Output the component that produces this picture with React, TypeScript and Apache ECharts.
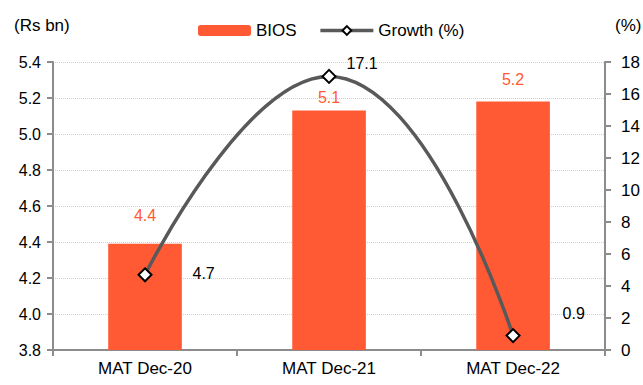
import React, { useEffect, useRef } from "react";
import * as echarts from "echarts";

const categories = ["MAT Dec-20", "MAT Dec-21", "MAT Dec-22"];
const biosValues = [4.39, 5.13, 5.18];
const biosLabels = ["4.4", "5.1", "5.2"];
const growthValues = [4.7, 17.1, 0.9];
const growthLabels = ["4.7", "17.1", "0.9"];

const ORANGE = "#FF5A33";
const LINE = "#595959";
const FONT = "Liberation Sans, Arial, sans-serif";

export default function App() {
  const ref = useRef<HTMLDivElement>(null);
  useEffect(() => {
    const chart = echarts.init(ref.current!, null, { renderer: "svg" });
    const barDist = [20, 5, 14];
    const lineDist = [40, 10, 42];
    const lineOff = [
      [0, -1],
      [0, -13],
      [0, -22],
    ];
    chart.setOption({
      animation: false,
      textStyle: { fontFamily: FONT },
      grid: { left: 53, right: 37, top: 62, bottom: 35 },
      legend: {
        top: 17,
        left: 193,
        itemGap: 22,
        itemWidth: 53,
        itemHeight: 11,
        textStyle: { fontSize: 17, color: "#000", fontFamily: FONT },
        data: [
          { name: "BIOS", itemStyle: { color: ORANGE } },
          {
            name: "Growth (%)",
            lineStyle: { color: LINE, width: 3.5 },
            itemStyle: { color: "#fff", borderColor: "#000", borderWidth: 2 },
          },
        ],
      },
      graphic: [
        {
          type: "text",
          left: 14,
          top: 17,
          style: { text: "(Rs bn)", fontSize: 17, fill: "#000", fontFamily: FONT },
        },
        {
          type: "text",
          left: 615,
          top: 17,
          style: { text: "(%)", fontSize: 17, fill: "#000", fontFamily: FONT },
        },
      ],
      xAxis: {
        type: "category",
        data: categories,
        boundaryGap: true,
        axisLine: { lineStyle: { color: "#8c8c8c", width: 2 } },
        axisTick: { show: true, length: 6, lineStyle: { color: "#8c8c8c", width: 2 } },
        axisLabel: { fontSize: 17, color: "#000", margin: 10, fontFamily: FONT },
      },
      yAxis: [
        {
          type: "value",
          min: 3.8,
          max: 5.4,
          interval: 0.2,
          axisLine: { show: true, lineStyle: { color: "#8c8c8c", width: 2 } },
          axisTick: { show: true, length: 6, lineStyle: { color: "#8c8c8c", width: 2 } },
          axisLabel: {
            fontSize: 16,
            color: "#000",
            margin: 12,
            fontFamily: FONT,
            formatter: (v: number) => v.toFixed(1),
          },
          splitLine: { show: true, lineStyle: { color: "#d0d0d0", type: "dotted", width: 1 } },
        },
        {
          type: "value",
          min: 0,
          max: 18,
          interval: 2,
          position: "right",
          axisLine: { show: true, lineStyle: { color: "#8c8c8c", width: 2 } },
          axisTick: { show: true, length: 6, lineStyle: { color: "#8c8c8c", width: 2 } },
          axisLabel: { fontSize: 17, color: "#000", margin: 16, fontFamily: FONT },
          splitLine: { show: false },
        },
      ],
      series: [
        {
          name: "BIOS",
          type: "bar",
          yAxisIndex: 0,
          barWidth: "40%",
          itemStyle: { color: ORANGE },
          data: biosValues.map((v, i) => ({
            value: v,
            label: {
              show: true,
              position: "top",
              distance: barDist[i],
              color: ORANGE,
              fontSize: 16,
              fontFamily: FONT,
              formatter: () => biosLabels[i],
            },
          })),
        },
        {
          name: "Growth (%)",
          type: "line",
          yAxisIndex: 1,
          smooth: 0.5,
          symbol: "diamond",
          symbolSize: 13,
          lineStyle: { color: LINE, width: 3.5 },
          itemStyle: { color: "#fff", borderColor: "#000", borderWidth: 2 },
          data: growthValues.map((v, i) => ({
            value: v,
            label: {
              show: true,
              position: "right",
              distance: lineDist[i],
              offset: lineOff[i],
              color: "#000",
              fontSize: 16,
              fontFamily: FONT,
              formatter: () => growthLabels[i],
            },
          })),
        },
      ],
    });
    return () => chart.dispose();
  }, []);
  return (
    <div
      ref={ref}
      style={{ position: "fixed", left: 0, top: 0, width: 643, height: 385, background: "#fff" }}
    />
  );
}
